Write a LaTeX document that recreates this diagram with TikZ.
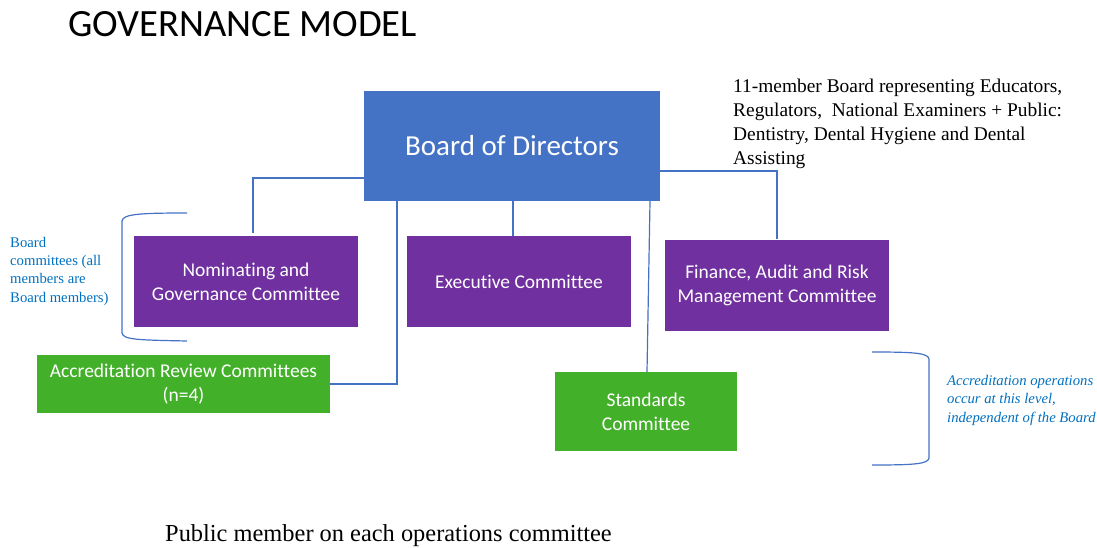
\documentclass[tikz,border=0pt]{standalone}
\usepackage{fontspec}
\setmainfont{Liberation Serif}
\newfontfamily\calibri[Ligatures=NoCommon]{Carlito}

\definecolor{bdblue}{HTML}{4472C4}
\definecolor{cpurple}{HTML}{7030A0}
\definecolor{cgreen}{HTML}{43B02A}
\definecolor{noteblue}{HTML}{0070C0}

\begin{document}
\begin{tikzpicture}[x=1pt,y=-1pt,
	box/.style={inner sep=0pt,text=white,align=center,font=\calibri\fontsize{19.5}{24}\selectfont},
	board/.style={box,fill=bdblue,minimum width=296pt,minimum height=110pt,font=\calibri\fontsize{29}{34}\selectfont},
	comm/.style={box,fill=cpurple,minimum width=224pt,minimum height=91pt},
	ops/.style={box,fill=cgreen},
	link/.style={draw=bdblue,line width=1.2pt},
	note/.style={inner sep=0pt,anchor=north west,align=left,text=noteblue,font=\fontsize{14.7}{18.2}\selectfont}]
	\useasboundingbox (0,0) rectangle (1097,548);

	\node[anchor=base west,inner sep=0pt,font=\calibri\fontsize{38.6}{44}\selectfont] (T) at (68,37) {GOVERNANCE MODEL};

	\node[board] (BD) at (512,146) {Board of Directors};
	\node[comm] (NG) at (246,281.5) {Nominating and\\Governance Committee};
	\node[comm] (EC) at (519,281.5) {Executive Committee};
	\node[comm] (FA) at (777,285) {Finance, Audit and Risk\\Management Committee};
	\node[ops,minimum width=293pt,minimum height=58pt] (AR) at (183.5,384) {Accreditation Review Committees\\(n=4)};
	\node[ops,minimum width=182pt,minimum height=79pt] (SC) at (646,411.5) {Standards\\Committee};

	\node[inner sep=0pt,anchor=north west,align=left,font=\fontsize{19.4}{24}\selectfont] (I) at (733,79) {11-member Board representing Educators,\\Regulators,\ \ National Examiners + Public:\\Dentistry, Dental Hygiene and Dental\\Assisting};
	\node[note] (BC) at (10,237) {Board\\committees (all\\members are\\Board members)};
	\node[note,font=\itshape\fontsize{14.7}{18.5}\selectfont] (AO) at (947,375) {Accreditation operations\\occur at this level,\\independent of the Board};
	\node[anchor=base west,inner sep=0pt,font=\fontsize{24.4}{28}\selectfont] (P) at (165,541) {Public member on each operations committee};

	\draw[link] (BD.west |- 0,178) -| ([xshift=7pt,yshift=3pt]NG.north);
	\draw[link] ([xshift=-115pt]BD.south) |- (AR.east);
	\draw[link] ([xshift=1pt]BD.south) -- ([xshift=1pt]BD.south |- EC.north);
	\draw[link] (BD.east |- 0,171) -| (FA.north);
	\draw[link] ([xshift=138pt]BD.south) -- ([xshift=1pt]SC.north);

	\draw[link] (187,213) .. controls (140,213) and (123,214) .. (122,221) -- (122,333) .. controls (123,340) and (140,340) .. (187,341);
	\draw[link] (872,352) .. controls (915,352) and (928,353) .. (929,359) -- (929,458) .. controls (928,464) and (915,465) .. (872,465);
\end{tikzpicture}
\end{document}
